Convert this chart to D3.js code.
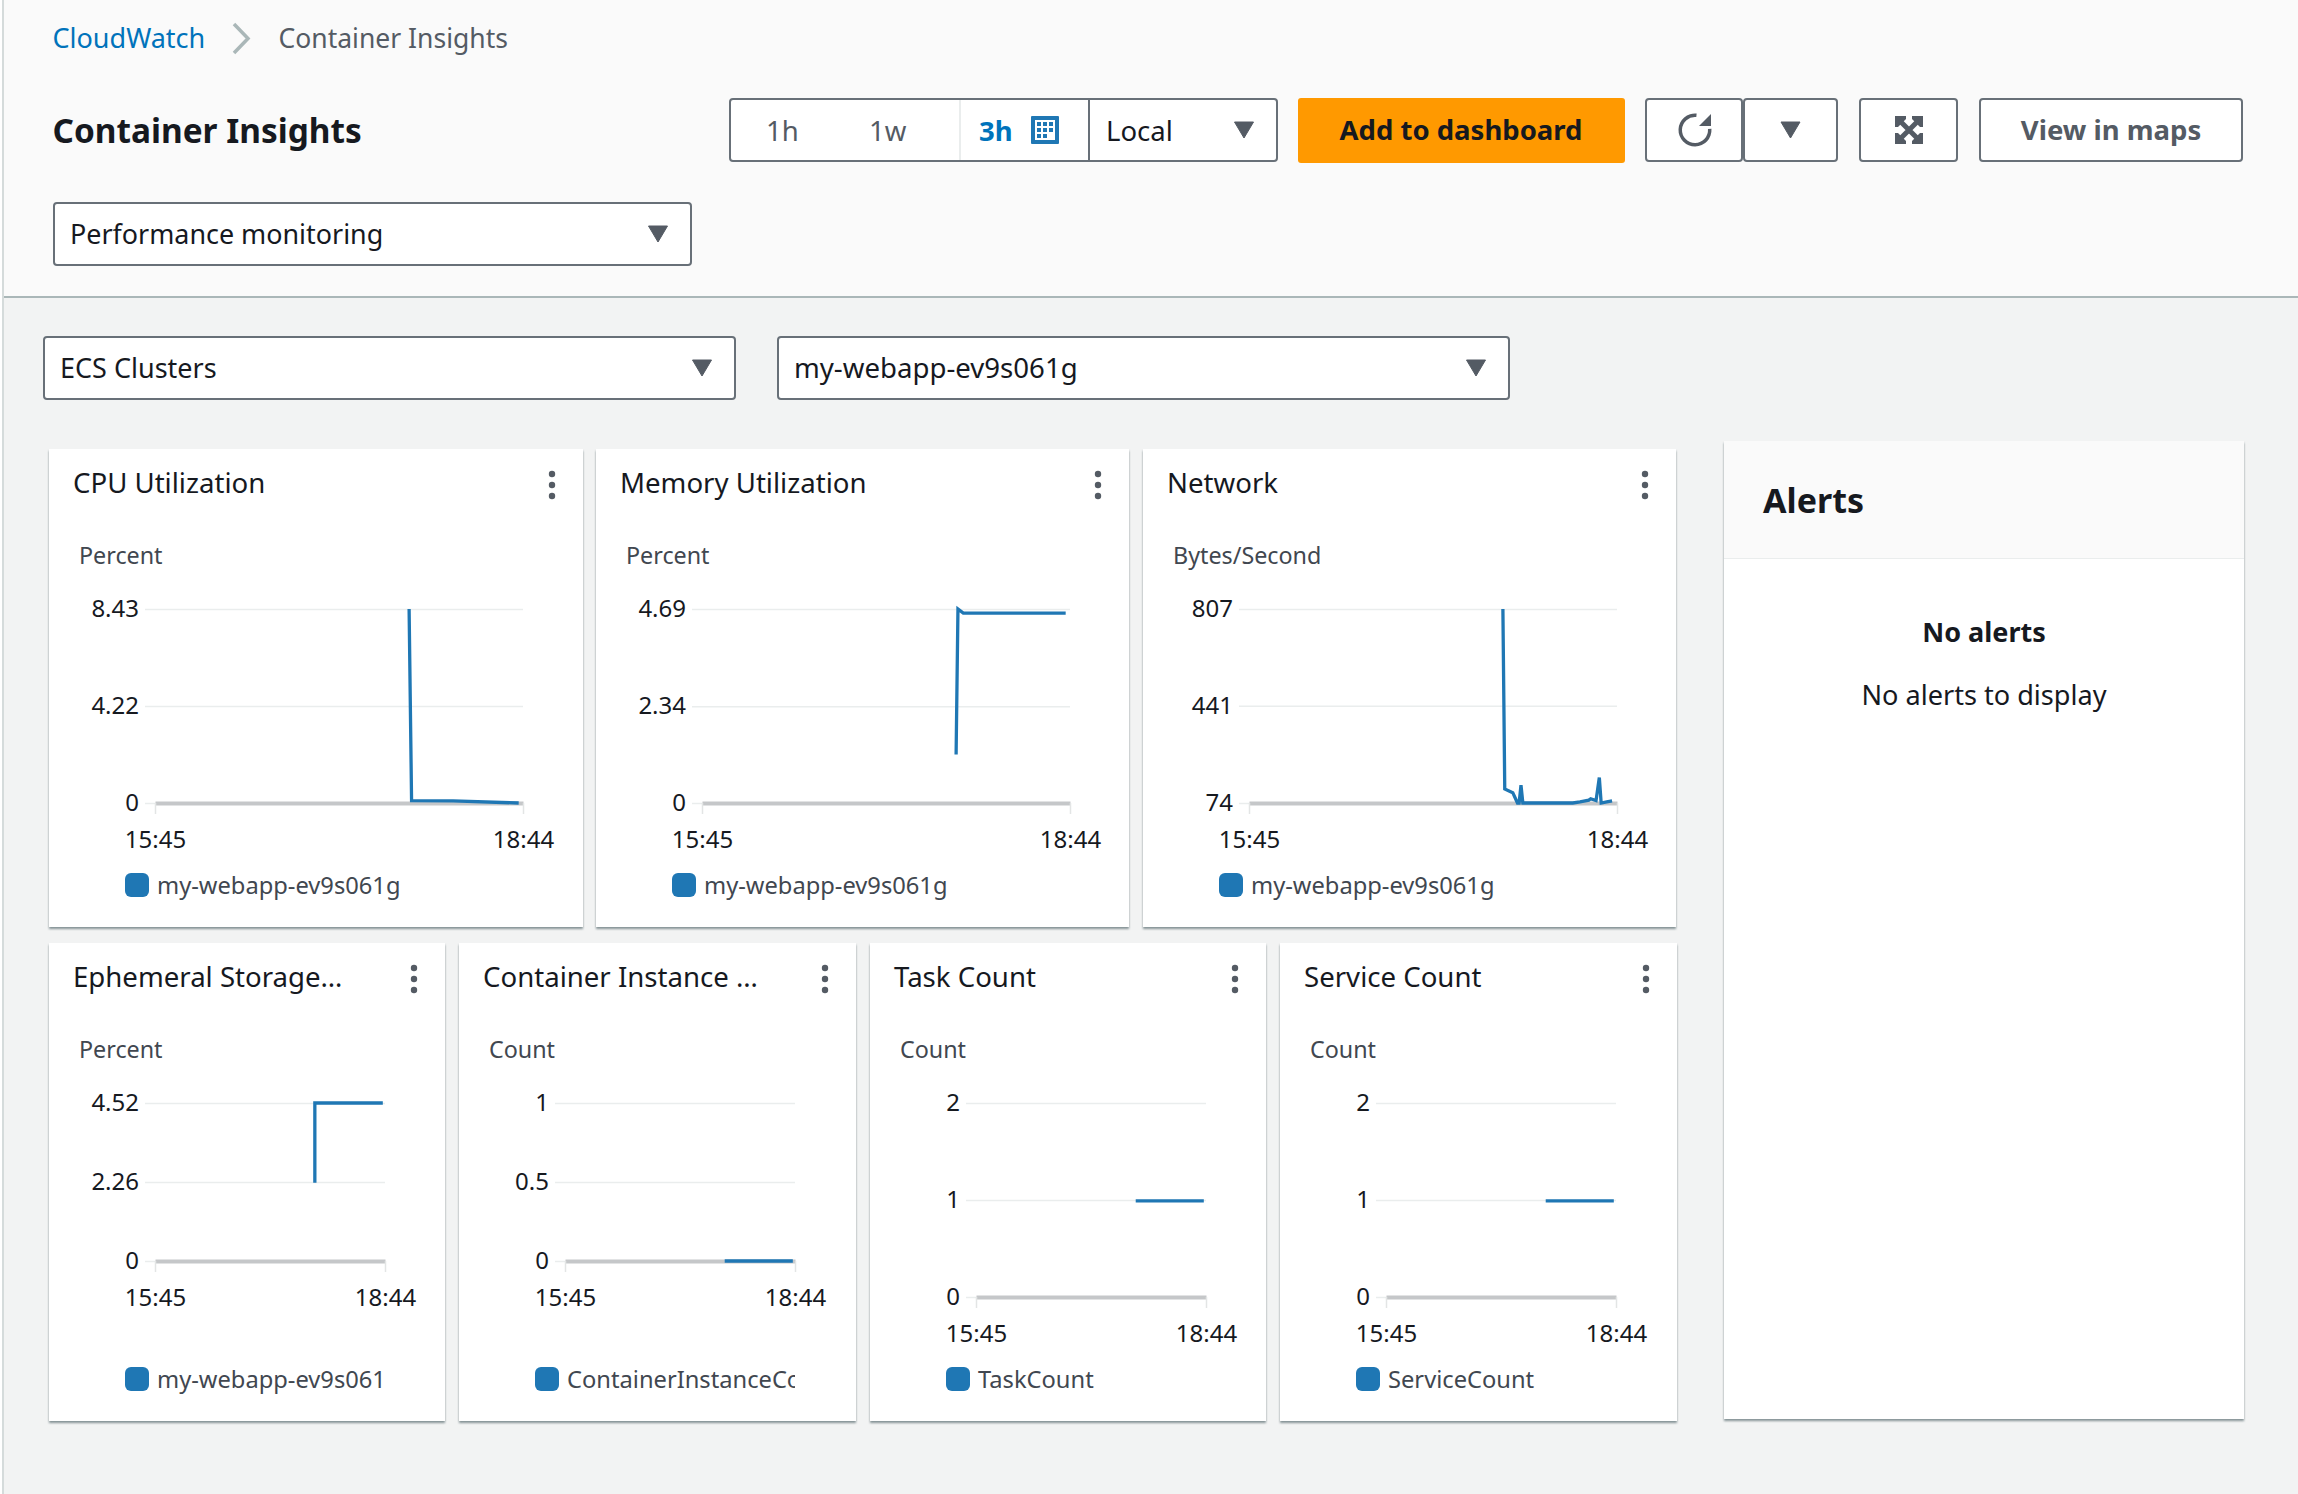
<!DOCTYPE html>
<html>
<head>
<meta charset="utf-8">
<script src="https://cdn.jsdelivr.net/npm/d3@7"></script>
<style>
  html, body { margin: 0; padding: 0; background: #f2f3f3; }
  svg { display: block; font-family: "Noto Sans", sans-serif; }
  .axis text { fill: #16191f; font-size: 24px; font-family: "Noto Sans", sans-serif; }
  .card { filter: drop-shadow(0 2px 1px rgba(0,28,36,.45)); }
</style>
</head>
<body>
<script>
// minutes since 15:45
var timeLabels = ['15:45', '18:44'];
var timeDomain = [0, 179];

var cpuMinutes = [123.6, 124.8, 145, 176.9];
var cpuValues = [8.43, 0.1, 0.09, 0];
var cpuTicks = [0, 4.22, 8.43];

var memMinutes = [123.6, 124.5, 127.1, 176.9];
var memValues = [1.17, 4.69, 4.59, 4.59];
var memTicks = [0, 2.34, 4.69];

var netMinutes = [123.5, 124.4, 128.3, 130.6, 131.4, 132.3, 133.2, 157.5, 161, 165.3, 166.2, 168.8, 170.4, 171.3, 174, 176.6];
var netValues = [807, 127, 113, 74, 74, 141, 74, 74, 78, 85, 90, 83, 170, 74, 78, 82];
var netTicks = [74, 441, 807];

var ephMinutes = [124.4, 124.4, 177.3];
var ephValues = [2.24, 4.52, 4.52];
var ephTicks = [0, 2.26, 4.52];

var instMinutes = [124.3, 177.3];
var instValues = [0, 0];
var instTicks = [0, 0.5, 1];

var taskMinutes = [124.3, 177.3];
var taskValues = [0.99, 0.99];
var taskTicks = [0, 1, 2];

var serviceMinutes = [124.3, 177.3];
var serviceValues = [0.99, 0.99];
var serviceTicks = [0, 1, 2];

var blue = '#1f77b4';
var svg = d3.select('body').append('svg').attr('width', 2298).attr('height', 1494);

function addText(x, y, str, size, color, weight, anchor) {
  return svg.append('text')
    .attr('x', x).attr('y', y)
    .attr('font-size', size)
    .attr('fill', color)
    .attr('font-weight', weight || 400)
    .attr('text-anchor', anchor || 'start')
    .text(str);
}

function addBox(x, y, w, h, fill) {
  return svg.append('rect')
    .attr('x', x + 1).attr('y', y + 1)
    .attr('width', w - 2).attr('height', h - 2)
    .attr('rx', 3)
    .attr('fill', fill || '#fff')
    .attr('stroke', '#687078')
    .attr('stroke-width', 2);
}

function addCaret(cx, top) {
  svg.append('path')
    .attr('d', 'M' + (cx - 9.5) + ',' + top + 'H' + (cx + 9.5) + 'L' + cx + ',' + (top + 16) + 'Z')
    .attr('fill', '#545b64')
    .attr('stroke', '#545b64')
    .attr('stroke-linejoin', 'round');
}

// page background
svg.append('rect').attr('width', 2298).attr('height', 1494).attr('fill', '#f2f3f3');
svg.append('rect').attr('width', 2298).attr('height', 297).attr('fill', '#fafafa');
svg.append('rect').attr('y', 296).attr('width', 2298).attr('height', 2).attr('fill', '#aab7b8');
svg.append('rect').attr('width', 3).attr('height', 1494).attr('fill', '#fff');
svg.append('rect').attr('x', 2).attr('width', 2).attr('height', 1494).attr('fill', '#d5dbdb');

// breadcrumb
addText(52.5, 48, 'CloudWatch', 27, '#0073bb');
svg.append('path').attr('d', 'M234,24L248,38.5L234,53').attr('fill', 'none').attr('stroke', '#aab7b8').attr('stroke-width', 3.5);
addText(278.5, 48, 'Container Insights', 26.5, '#545b64');
addText(52.5, 143, 'Container Insights', 33.4, '#16191f', 700);

// time range control
addBox(729, 98, 549, 64);
svg.append('line').attr('x1', 960).attr('x2', 960).attr('y1', 100).attr('y2', 160).attr('stroke', '#eaeded').attr('stroke-width', 2);
svg.append('line').attr('x1', 1089).attr('x2', 1089).attr('y1', 98).attr('y2', 162).attr('stroke', '#687078').attr('stroke-width', 2);
addText(766, 141, '1h', 27.5, '#545b64');
addText(869, 141, '1w', 27.5, '#545b64');
addText(979, 141, '3h', 27.5, '#0073bb', 700);
svg.append('rect').attr('x', 1031).attr('y', 116).attr('width', 28).attr('height', 28).attr('rx', 1).attr('fill', '#1f77b4');
svg.append('rect').attr('x', 1035).attr('y', 120).attr('width', 20).attr('height', 20).attr('fill', '#fff');
d3.range(3).forEach(function (r) {
  d3.range(3).forEach(function (c) {
    if (r == 2 && c == 2) return;
    svg.append('rect').attr('x', 1037 + c * 6).attr('y', 122 + r * 6).attr('width', 4).attr('height', 4).attr('fill', '#1f77b4');
  });
});
addText(1106, 141, 'Local', 27.5, '#16191f');
addCaret(1244, 122);

// buttons
svg.append('rect').attr('x', 1298).attr('y', 98).attr('width', 327).attr('height', 65).attr('rx', 3).attr('fill', '#ff9900');
addText(1461, 140, 'Add to dashboard', 27.5, '#16191f', 700, 'middle');
addBox(1645, 98, 98, 64);
addBox(1743, 98, 95, 64);
svg.append('path').attr('d', d3.arc().innerRadius(13).outerRadius(16.5).startAngle(1.5).endAngle(Math.PI * 2 + 0.1)()).attr('transform', 'translate(1695,130)').attr('fill', '#545b64');
svg.append('path').attr('d', 'M1711,114V126H1699Z').attr('fill', '#545b64');
addCaret(1790.5, 122);
addBox(1859, 98, 99, 64);
// expand icon: an X with a solid arrowhead in each corner
svg.append('path')
  .attr('d', 'M1895,116H1906V119L1898,127H1895ZM1923,116H1912V119L1920,127H1923ZM1895,144H1906V141L1898,133H1895ZM1923,144H1912V141L1920,133H1923Z')
  .attr('fill', '#545b64');
svg.append('path').attr('d', 'M1899,120L1919,140M1919,120L1899,140').attr('stroke', '#545b64').attr('stroke-width', 5);
addBox(1979, 98, 264, 64);
addText(2111, 140, 'View in maps', 27.5, '#545b64', 700, 'middle');

// dropdowns
addBox(53, 202, 639, 64);
addText(70, 244, 'Performance monitoring', 26.9, '#16191f');
addCaret(658, 226);
addBox(43, 336, 693, 64);
addText(60, 378, 'ECS Clusters', 27, '#16191f');
addCaret(702, 360);
addBox(777, 336, 733, 64);
addText(794, 378, 'my-webapp-ev9s061g', 27.6, '#16191f');
addCaret(1476, 360);

// alerts panel
svg.append('rect').attr('class', 'card').attr('x', 1724).attr('y', 441).attr('width', 520).attr('height', 978).attr('fill', '#fff');
svg.append('rect').attr('x', 1724).attr('y', 441).attr('width', 520).attr('height', 117).attr('fill', '#fafafa');
svg.append('rect').attr('x', 1724).attr('y', 558).attr('width', 520).attr('height', 1).attr('fill', '#eaeded');
addText(1763, 513, 'Alerts', 34, '#16191f', 700);
addText(1984, 642, 'No alerts', 27, '#16191f', 700, 'middle');
addText(1984, 705, 'No alerts to display', 27.1, '#16191f', 400, 'middle');

// one metric widget
function drawPanel(p, i) {
  var cardW = p.w, cardH = 478;
  var left = p.x + 106, right = left + p.plotW;
  var top = p.y + 160, bottom = p.bottom;

  svg.append('rect').attr('class', 'card').attr('x', p.x).attr('y', p.y).attr('width', cardW).attr('height', cardH).attr('fill', '#fff');
  addText(p.x + 24, p.y + 44, p.title, 27.6, '#16191f');
  [0, 11, 22].forEach(function (d) {
    svg.append('circle').attr('cx', p.x + cardW - 31).attr('cy', p.y + 25 + d).attr('r', 3.2).attr('fill', '#545b64');
  });
  addText(p.x + 30, p.y + 115, p.unit, 23.3, '#414750');

  var x = d3.scaleLinear().domain(timeDomain).range([left, right]);
  var y = d3.scaleLinear().domain([p.ticks[0], p.ticks[2]]).range([bottom, top]);

  var yAxis = d3.axisLeft(y)
    .tickValues(p.ticks)
    .tickFormat(function (d) { return String(d); })
    .tickSize(right - left + 10)
    .tickPadding(6);
  var gy = svg.append('g').attr('class', 'axis').attr('transform', 'translate(' + right + ',0)').call(yAxis);
  gy.select('.domain').remove();
  gy.selectAll('.tick line').attr('stroke', '#eaeded').attr('stroke-width', 1.5);

  var xAxis = d3.axisBottom(x)
    .tickValues(timeDomain)
    .tickFormat(function (d, k) { return timeLabels[k]; })
    .tickSizeInner(11)
    .tickSizeOuter(0)
    .tickPadding(17);
  var gx = svg.append('g').attr('class', 'axis').attr('transform', 'translate(0,' + bottom + ')').call(xAxis);
  gx.select('.domain').attr('stroke', '#c5c7c9').attr('stroke-width', 4);
  gx.selectAll('.tick line').attr('stroke', '#e3e5e5').attr('stroke-width', 1.5);

  var line = d3.line()
    .x(function (d) { return x(d[0]); })
    .y(function (d) { return y(d[1]); });
  svg.append('path')
    .datum(d3.zip(p.minutes, p.values))
    .attr('d', line)
    .attr('fill', 'none')
    .attr('stroke', blue)
    .attr('stroke-width', 3.3);

  // legend, long names get cut at the plot edge
  var clipId = 'legend-clip-' + i;
  svg.append('clipPath').attr('id', clipId).append('rect')
    .attr('x', p.x).attr('y', p.y + 410).attr('width', right - p.x).attr('height', 60);
  svg.append('rect').attr('x', p.x + 76).attr('y', p.y + 424).attr('width', 24).attr('height', 24).attr('rx', 6).attr('fill', blue);
  addText(p.x + 108, p.y + 444.5, p.legend, 23.7, '#414750').attr('clip-path', 'url(#' + clipId + ')');
}

[
  { x: 49, y: 449, w: 534, plotW: 368, bottom: 803, title: 'CPU Utilization', unit: 'Percent', legend: 'my-webapp-ev9s061g', ticks: cpuTicks, minutes: cpuMinutes, values: cpuValues },
  { x: 596, y: 449, w: 533, plotW: 368, bottom: 803, title: 'Memory Utilization', unit: 'Percent', legend: 'my-webapp-ev9s061g', ticks: memTicks, minutes: memMinutes, values: memValues },
  { x: 1143, y: 449, w: 533, plotW: 368, bottom: 803, title: 'Network', unit: 'Bytes/Second', legend: 'my-webapp-ev9s061g', ticks: netTicks, minutes: netMinutes, values: netValues },
  { x: 49, y: 943, w: 396, plotW: 230, bottom: 1261, title: 'Ephemeral Storage…', unit: 'Percent', legend: 'my-webapp-ev9s061g', ticks: ephTicks, minutes: ephMinutes, values: ephValues },
  { x: 459, y: 943, w: 397, plotW: 230, bottom: 1261, title: 'Container Instance …', unit: 'Count', legend: 'ContainerInstanceCount', ticks: instTicks, minutes: instMinutes, values: instValues },
  { x: 870, y: 943, w: 396, plotW: 230, bottom: 1297, title: 'Task Count', unit: 'Count', legend: 'TaskCount', ticks: taskTicks, minutes: taskMinutes, values: taskValues },
  { x: 1280, y: 943, w: 397, plotW: 230, bottom: 1297, title: 'Service Count', unit: 'Count', legend: 'ServiceCount', ticks: serviceTicks, minutes: serviceMinutes, values: serviceValues }
].forEach(drawPanel);
</script>
</body>
</html>
